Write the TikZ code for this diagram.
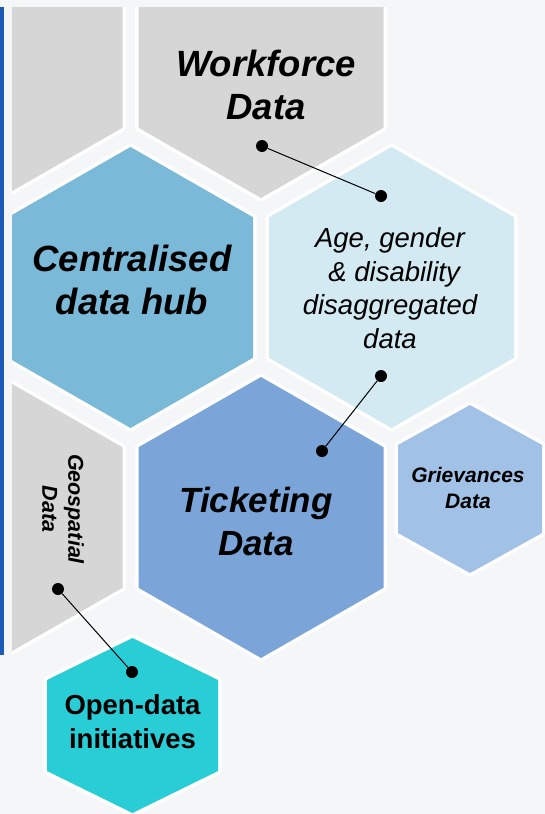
\documentclass[tikz,border=0pt]{standalone}
\usepackage{fontspec}
\setmainfont{Liberation Sans}
\definecolor{bgpaper}{RGB}{245,246,247}
\definecolor{barblue}{RGB}{28,92,184}
\definecolor{tilegray}{RGB}{214,214,214}
\definecolor{hubblue}{RGB}{122,185,215}
\definecolor{agepale}{RGB}{211,234,242}
\definecolor{ticketblue}{RGB}{123,165,216}
\definecolor{grievblue}{RGB}{162,193,230}
\definecolor{opencyan}{RGB}{40,205,214}
% colour, centre x, centre y, half width, radius, side offset
\newcommand{\hexat}[6]{%
  \draw[white, line width=7pt, line join=round, fill=#1]
    (#2,#3-#5) -- (#2+#4,#3-#6) -- (#2+#4,#3+#6) -- (#2,#3+#5) -- (#2-#4,#3+#6) -- (#2-#4,#3-#6) -- cycle;
  \fill[#1]
    (#2,#3-#5) -- (#2+#4,#3-#6) -- (#2+#4,#3+#6) -- (#2,#3+#5) -- (#2-#4,#3+#6) -- (#2-#4,#3-#6) -- cycle;}

\begin{document}
\begin{tikzpicture}[x=1pt, y=-1pt,
  hexlabel/.style={align=center, inner sep=0pt, text=black},
  tipdot/.style={circle, fill=black, inner sep=0pt, minimum size=12pt},
  link/.style={black, line width=1pt}
]
  \fill[bgpaper] (0,0) rectangle (545,814);
  \useasboundingbox (0,0) rectangle (545,814);
  \fill[barblue] (0,7) rectangle (3.5,655);

  % hexagon tiles
  \begin{scope}
    \clip (12,7) rectangle (545,814);
    \hexat{tilegray}{0}{57.5}{122.5}{140.5}{70.25}
    \hexat{tilegray}{261}{57.5}{122.5}{140.5}{70.25}
    \hexat{hubblue}{130.5}{287.5}{122.5}{140.5}{70.25}
    \hexat{agepale}{391.5}{287.5}{122.5}{140.5}{70.25}
    \hexat{tilegray}{0}{517.5}{122.5}{140.5}{70.25}
    \hexat{ticketblue}{261}{517.5}{122.5}{140.5}{70.25}
    \hexat{grievblue}{470}{489}{72}{84}{44}
    \hexat{opencyan}{132.5}{725.5}{85.5}{87.5}{45.5}
  \end{scope}

  % labels
  \node[hexlabel, font=\fontsize{36.5}{43}\selectfont\bfseries\itshape] (workforce) at (266,85) {Workforce\\Data};
  \node[hexlabel, font=\fontsize{36.5}{43}\selectfont\bfseries\itshape] (hub) at (132,280) {Centralised\\data hub};
  \node[hexlabel, font=\fontsize{27.5}{33.5}\selectfont\itshape] (agedata) at (390,288) {Age, gender\\\hspace*{0.3em}\& disability\\disaggregated\\data};
  \node[hexlabel, font=\fontsize{35}{43}\selectfont\bfseries\itshape] (ticketing) at (256,521) {Ticketing\\Data};
  \node[hexlabel, font=\fontsize{21}{26}\selectfont\bfseries\itshape] (grievances) at (468,488) {Grievances\\Data};
  \node[hexlabel, rotate=-90, font=\fontsize{21.5}{26}\selectfont\bfseries\itshape] (geospatial) at (63,509) {Geospatial\\Data};
  \node[hexlabel, font=\fontsize{27.5}{34}\selectfont\bfseries] (opendata) at (132.5,722) {Open-data\\initiatives};

  % dots and links
  \node[tipdot] (wfdot) at (262,146) {};
  \node[tipdot] (agetopdot) at (381,196) {};
  \node[tipdot] (agebotdot) at (381,376) {};
  \node[tipdot] (ticketdot) at (322,451) {};
  \node[tipdot] (geodot) at (58,589) {};
  \node[tipdot] (opendot) at (132,672) {};
  \draw[link] (wfdot) -- (agetopdot);
  \draw[link] (agebotdot) -- (ticketdot);
  \draw[link] (geodot) -- (opendot);
\end{tikzpicture}
\end{document}
